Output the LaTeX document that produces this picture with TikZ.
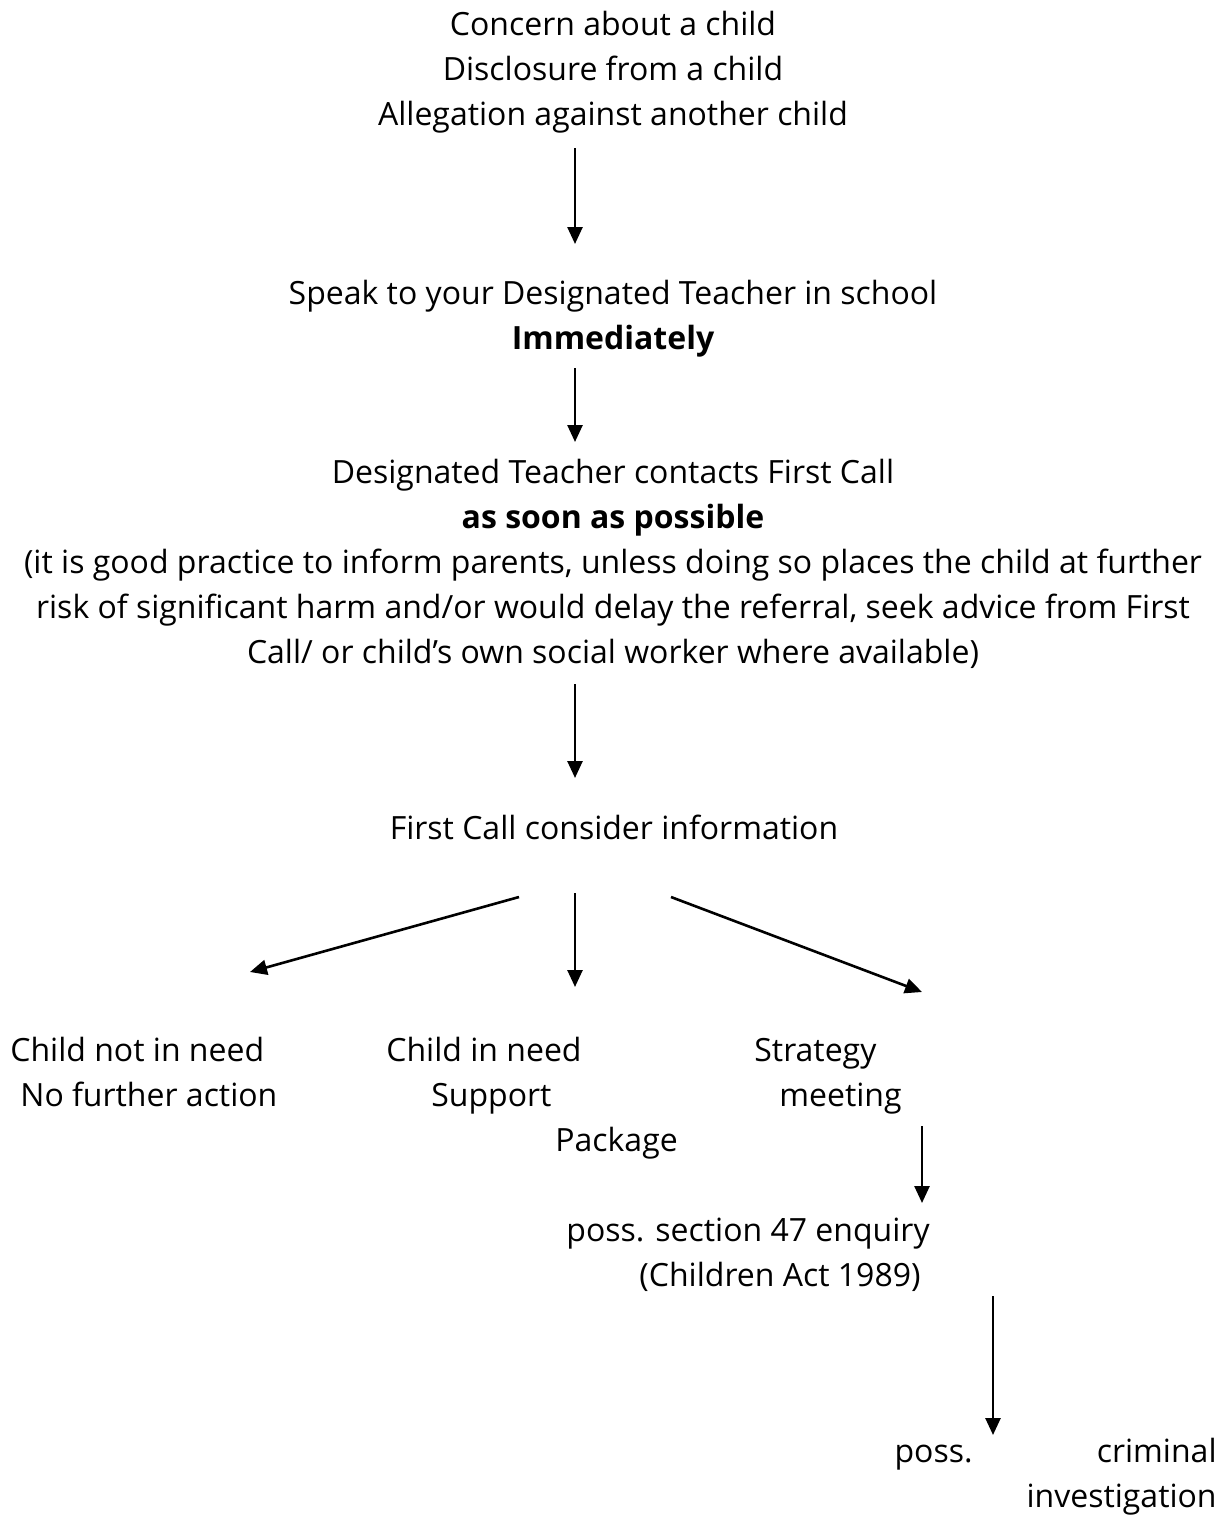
\documentclass[tikz,border=0pt]{standalone}
\usepackage{fontspec}
\setmainfont{Open Sans}
\usetikzlibrary{arrows.meta}
\begin{document}
\begin{tikzpicture}[x=0.5pt,y=-0.5pt,
  txt/.style={inner sep=0pt, font=\fontsize{16}{22.5}\selectfont},
  arr/.style={line width=1.3pt, -{Triangle[length=8.5pt,width=7.5pt]}}]
\useasboundingbox (0,0) rectangle (1227,1515);
\node[txt, align=center] (top) at (613,71)
  {\strut Concern about a child\\\strut Disclosure from a child\\\strut Allegation against another child};
\node[txt, align=center] (speak) at (613,318)
  {\strut Speak to your Designated Teacher in school\\\strut\textbf{Immediately}};
\node[txt, align=center] (dt) at (613,564)
  {\strut Designated Teacher contacts First Call\\\strut\textbf{as soon as possible}\\
   \strut(it is good practice to inform parents, unless doing so places the child at further\\
   \strut risk of significant harm and/or would delay the referral, seek advice from First\\
   \strut Call/ or child’s own social worker where available)};
\node[txt, align=center] (fc) at (614,830) {\strut First Call consider information};
\node[txt, align=left, anchor=west] (cnn) at (10,1074.5)
  {\strut Child not in need\\\strut\hspace*{5pt}No further action};
\node[txt, align=left, anchor=west] (cin) at (386,1097.5)
  {\strut Child in need\\\strut\hspace*{22.5pt}Support\\\strut\hspace*{84.5pt}Package};
\node[txt, align=left, anchor=west] (strat) at (754,1074.5)
  {\strut Strategy\\\strut\hspace*{12.5pt}meeting};
\node[txt, align=left, anchor=west] (s47) at (566,1254.5)
  {\strut poss. section 47 enquiry\\\strut\hspace*{36.5pt}(Children Act 1989)};
\node[txt, align=right, anchor=east, text width=161pt] (crim) at (1217,1476)
  {\strut poss.\hfill criminal\\\strut investigation};
\draw[arr] ([shift={(-38,77)}]top.center) -- ([shift={(-38,-74)}]speak.center);
\draw[arr] ([shift={(-38,50)}]speak.center) -- ([shift={(-38,-122)}]dt.center);
\draw[arr] ([shift={(-38,120)}]dt.center) -- ([shift={(-39,-52)}]fc.center);
\draw[arr] ([shift={(-95,67)}]fc.center) -- ([shift={(240,-102.5)}]cnn.west);
\draw[arr] ([shift={(-39,63)}]fc.center) -- ([shift={(189,-110.5)}]cin.west);
\draw[arr] ([shift={(57,67)}]fc.center) -- ([shift={(168,-82.5)}]strat.west);
\draw[arr] ([shift={(356,-128.5)}]s47.west) -- ([shift={(356,-51.5)}]s47.west);
\draw[arr] ([shift={(427,41.5)}]s47.west) -- ([shift={(-224,-41)}]crim.east);
\end{tikzpicture}
\end{document}
